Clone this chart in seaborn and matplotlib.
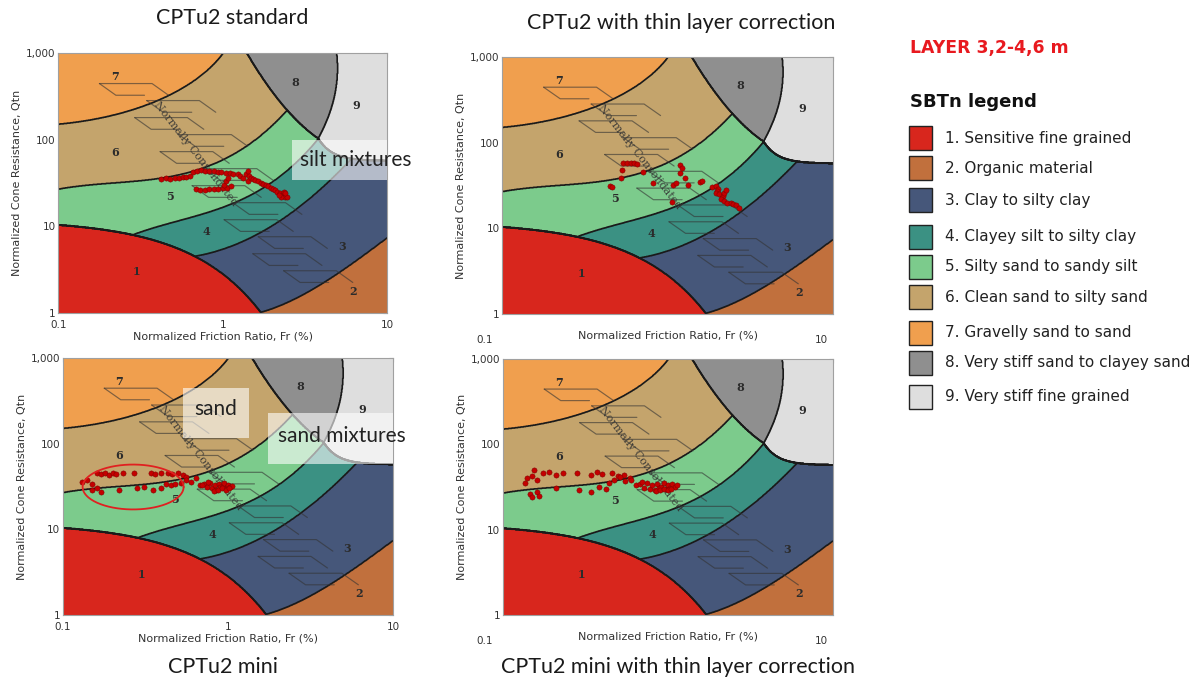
import numpy as np
import matplotlib
matplotlib.use("Agg")
import matplotlib.pyplot as plt
import seaborn as sns
from matplotlib.patches import Rectangle
from matplotlib.ticker import LogLocator, NullFormatter
from matplotlib.transforms import ScaledTranslation

sns.set_style("white")
plt.rcParams["font.family"] = ["DejaVu Sans"]

# ------------------------------------------------------------------ data
panel_titles = ["CPTu2 standard", "CPTu2 with thin layer correction",
                "CPTu2 mini", "CPTu2 mini with thin layer correction"]
layer_title = "LAYER 3,2-4,6 m"
legend_title = "SBTn legend"
zone_names = ["1. Sensitive fine grained", "2. Organic material",
              "3. Clay to silty clay", "4. Clayey silt to silty clay",
              "5. Silty sand to sandy silt", "6. Clean sand to silty sand",
              "7. Gravelly sand to sand", "8. Very stiff sand to clayey sand",
              "9. Very stiff fine grained"]
zone_colors = ["#d8261d", "#c1703d", "#46577a", "#3b9183", "#7ccb8c",
               "#c4a46c", "#f09f4e", "#8f8f8f", "#dedede"]
zone_ids = ["1", "2", "3", "4", "5", "6", "7", "8", "9"]
zone_label_fr = [0.30, 6.2, 5.3, 0.80, 0.48, 0.22, 0.22, 2.75, 6.5]
zone_label_q = [3.0, 1.78, 5.9, 8.7, 22, 72, 530, 460, 250]

x_ticks = [0.1, 1, 10]
x_tick_labels = ["0.1", "1", "10"]
y_ticks = [1, 10, 100, 1000]
y_tick_labels = ["1", "10", "100", "1,000"]
x_label = "Normalized Friction Ratio, Fr (%)"
y_label = "Normalized Cone Resistance, Qtn"

# CPT data (Fr %, Qtn)
fr_std = [0.42, 0.45, 0.48, 0.51, 0.54, 0.57, 0.60, 0.63,
          0.66, 0.70, 0.74, 0.78, 0.83, 0.88, 0.93, 0.98, 1.04, 1.10, 1.16, 1.23,
          0.69, 0.73, 0.78, 0.83, 0.88, 0.94, 1.00, 1.06, 1.12,
          1.02, 1.05, 1.08,
          1.28, 1.33, 1.38, 1.42, 1.45, 1.42, 1.48, 1.52, 1.58, 1.64, 1.70, 1.76, 1.82,
          1.88, 1.95, 2.02, 2.08, 2.15, 2.22, 2.30, 2.38, 2.44, 2.35, 2.25, 2.40, 2.20]
q_std = [35, 36, 35, 36, 36, 37, 37, 38,
         42, 44, 45, 44, 43, 43, 42, 42, 41, 41, 40, 40,
         27, 26, 26, 27, 27, 27, 28, 28, 29,
         30, 33, 36,
         38, 36, 40, 43, 38, 33, 36, 35, 34, 33, 32, 31, 30,
         29, 28, 27, 26, 25, 24, 23, 22, 22, 25, 22, 24, 23]

fr_thin = [0.54, 0.57, 0.60, 0.63, 0.65, 0.53, 0.52, 0.45, 0.46, 0.71, 0.81, 1.19, 1.19,
           1.22, 1.27, 1.33, 1.08, 1.12, 1.06, 1.57, 1.62,
           1.86, 1.95, 2.02, 2.00, 1.95, 2.05, 2.15, 2.10, 2.20, 2.30, 2.40, 2.50, 2.60,
           2.70, 2.20, 2.25]
q_thin = [58, 58, 58, 58, 57, 48, 39, 31, 30, 46, 34, 55, 44,
          50, 39, 32, 32, 34, 20.5, 35, 36,
          30, 31, 29, 27, 26, 25, 24, 22, 21, 20, 20, 19, 18.5,
          17.5, 26, 28]

fr_mini = [0.13, 0.14, 0.15, 0.16, 0.17, 0.18, 0.19, 0.20, 0.21, 0.23, 0.27, 0.34, 0.36,
           0.39, 0.43, 0.46, 0.50, 0.53, 0.56,
           0.15, 0.16, 0.17, 0.22, 0.28, 0.31, 0.35, 0.39, 0.42, 0.45, 0.48, 0.52, 0.56,
           0.60, 0.64,
           0.68, 0.72, 0.75, 0.78, 0.80, 0.83, 0.85, 0.88, 0.90, 0.93, 0.95, 0.98, 1.00,
           1.03, 1.06, 0.82, 0.87, 0.92, 0.97, 1.02, 0.76, 0.70]
q_mini = [36, 38, 34, 45, 44, 45, 43, 45, 44, 46, 45, 45, 44,
          46, 45, 44, 45, 43, 41,
          29, 30, 27, 29, 30, 31, 29, 30, 34, 33, 34, 35, 38,
          36, 40,
          33, 34, 31, 35, 30, 33, 29, 34, 31, 32, 35, 30, 33,
          31, 32, 28, 29, 30, 29, 30, 36, 33]

fr_mini_thin = [0.135, 0.14, 0.15, 0.155, 0.16, 0.175, 0.19, 0.21, 0.23, 0.28, 0.34, 0.37,
                0.40, 0.46, 0.50, 0.54, 0.59,
                0.145, 0.15, 0.16, 0.165, 0.21, 0.29, 0.34, 0.38, 0.42, 0.44, 0.47, 0.51,
                0.55,
                0.64, 0.68, 0.72, 0.75, 0.78, 0.80, 0.83, 0.86, 0.88, 0.91, 0.94, 0.97,
                1.00, 1.03, 1.06, 1.10, 1.13, 0.85, 0.90, 0.95, 1.00, 1.05, 0.70, 0.60]
q_mini_thin = [35, 40, 43, 50, 38, 46, 48, 44, 46, 46, 44, 47,
               45, 46, 42, 44, 40,
               26, 24, 28, 25, 30.6, 29, 28, 31.6, 30, 35, 38, 41,
               37,
               33, 34, 31, 35, 30, 33, 29, 34, 31, 32, 35, 30,
               33, 31, 34, 32, 33, 28.5, 29, 30, 29, 30, 36, 38]

panel_data = [(fr_std, q_std), (fr_thin, q_thin), (fr_mini, q_mini),
              (fr_mini_thin, q_mini_thin)]

# SBTn chart boundaries (log10 Fr, log10 Qtn) control points
b65_u = [-1.0, -0.75, -0.35, 0.05, 0.17, 0.30, 0.389]
b65_v = [1.441, 1.455, 1.60, 1.80, 1.95, 2.16, 2.345]
b54_u = [-0.52, -0.19, 0.113, 0.376, 0.58]
b54_v = [0.923, 1.094, 1.328, 1.602, 2.014]
b43_u = [-0.14, 0.42, 0.782]
b43_v = [0.665, 1.16, 1.78]
b32_u = [0.216, 0.469, 0.672, 0.874, 0.996]
b32_v = [0.0, 0.192, 0.422, 0.69, 0.863]
bA_u = [0.146, 0.389, 0.58]
bA_v = [3.0, 2.345, 2.014]
bB_v = [3.0, 2.38, 2.014]
bB_u = [0.692, 0.662, 0.58]
corner_u, corner_v = 0.58, 2.014

# ------------------------------------------------------------------ zones
U1 = np.linspace(-1, 1, 700)
V1 = np.linspace(0, 3, 700)
U, V = np.meshgrid(U1, V1)
FR = 10 ** U
QQ = 10 ** V


def boundary(us, vs, deg, grid, end):
    val = np.polyval(np.polyfit(us, vs, deg), grid)
    return np.where(grid > end, 10.0, val)


ic = np.sqrt((3.47 - V) ** 2 + (U + 1.22) ** 2)
s65 = boundary(b65_u, b65_v, 3, U, b65_u[-1])
s54 = boundary(b54_u, b54_v, 3, U, b54_u[-1])
s43 = boundary(b43_u, b43_v, 2, U, b43_u[-1])
s32 = boundary(b32_u, b32_v, 3, U, 2.0)
sA = np.polyval(np.polyfit(bA_u, bA_v, 2), U)
gB = np.polyval(np.polyfit(bB_v, bB_u, 2), np.maximum(V, corner_v))
sC = 1.757 + 0.257 * np.exp(-(U - corner_u) / 0.086)

Z = np.full(U.shape, 2.0)
Z[V > s32] = 3
Z[V > s43] = 4
Z[V > s54] = 5
Z[V > s65] = 6
Z[ic < 1.31] = 7
in9 = (U > gB) & (V > sC)
in8 = (V > sA) & ~in9
Z[in8] = 8
Z[in9] = 9
Z[QQ < 12 * np.exp(-1.45 * FR)] = 1

W, H = 1203, 682
fig = plt.figure(figsize=(W / 100, H / 100), dpi=100)

rects = [(58.3, 53, 387.3, 313), (502.3, 57, 833, 314),
         (63, 358, 393, 615), (503, 359, 833, 615)]

nc_t = np.linspace(0, 1, 12)
nc_dx = [-0.05, 0.05, -0.03, 0.06, -0.04, 0.05, -0.03, 0.05, -0.02, 0.04, -0.02, 0.03]


def px_rect(r):
    x0, y0, x1, y1 = r
    return [x0 / W, 1 - y1 / H, (x1 - x0) / W, (y1 - y0) / H]


axes = []
for i, r in enumerate(rects):
    ax = fig.add_axes(px_rect(r))
    axes.append(ax)
    ax.set_xscale("log")
    ax.set_yscale("log")
    ax.contourf(FR, QQ, Z, levels=np.arange(0.5, 10, 1.0), colors=zone_colors,
                antialiased=True)
    ax.contour(FR, QQ, Z, levels=np.arange(1.5, 9.5, 1.0), colors="#1a1a1a",
               linewidths=1.2)
    ax.set_xlim(0.1, 10)
    ax.set_ylim(1, 1000)

    # normally consolidated band
    for k, t in enumerate(nc_t):
        cx = 0.28 + 0.48 * t + nc_dx[k]
        cy = 0.86 - 0.72 * t
        w, h, s = 0.16, 0.045, 0.05
        ax.plot([cx - w / 2 - s / 2, cx + w / 2 - s / 2, cx + w / 2 + s / 2],
                [cy + h / 2, cy + h / 2, cy - h / 2], transform=ax.transAxes,
                color="#333333", lw=0.85, alpha=0.6)
        ax.plot([cx - w / 2 - s / 2, cx - w / 2 + s / 2, cx + w / 2 * 0.4],
                [cy + h / 2, cy - h / 2, cy - h / 2], transform=ax.transAxes,
                color="#333333", lw=0.85, alpha=0.6)
    ax.text(0.68, 68, "Normally Consolidated", rotation=-52, ha="center",
            va="center", fontsize=8, family="DejaVu Serif", color="#333333",
            alpha=0.9, rotation_mode="anchor")

    for zid, zf, zq in zip(zone_ids, zone_label_fr, zone_label_q):
        ax.text(zf, zq, zid, ha="center", va="center", fontsize=8,
                family="DejaVu Serif", fontweight="bold", color="#2b2b2b")

    fr, q = panel_data[i]
    sns.scatterplot(x=fr, y=q, ax=ax, color="#c40000", s=14, edgecolor="#7a0000",
                    linewidth=0.35, zorder=6, legend=False)

    ax.set_xticks(x_ticks)
    ax.set_xticklabels(x_tick_labels)
    ax.set_yticks(y_ticks)
    ax.set_yticklabels(y_tick_labels)
    ax.xaxis.set_minor_locator(LogLocator(base=10, subs=np.arange(2, 10)))
    ax.yaxis.set_minor_locator(LogLocator(base=10, subs=np.arange(2, 10)))
    ax.xaxis.set_minor_formatter(NullFormatter())
    ax.yaxis.set_minor_formatter(NullFormatter())
    ax.tick_params(which="both", direction="in", top=True, right=True,
                   color="#8a8a8a", labelsize=7.5, labelcolor="#333333")
    ax.tick_params(which="major", length=3)
    ax.tick_params(which="minor", length=2)
    ax.tick_params(axis="y", pad=2)
    for sp in ax.spines.values():
        sp.set_color("#a0a0a0")
        sp.set_linewidth(0.8)
    ax.set_ylabel(y_label, fontsize=8, color="#333333", labelpad=3)
    if i % 2 == 0:
        ax.tick_params(axis="x", pad=5)
        ax.set_xlabel(x_label, fontsize=8, color="#333333", labelpad=1)
    else:
        ax.set_xticks([x_ticks[0], x_ticks[2]])
        ax.set_xticklabels([x_tick_labels[0], x_tick_labels[2]])
        ax.tick_params(axis="x", pad=15)
        labs = ax.get_xticklabels()
        labs[0].set_transform(labs[0].get_transform() +
                              ScaledTranslation(-0.18, 0, fig.dpi_scale_trans))
        labs[1].set_transform(labs[1].get_transform() +
                              ScaledTranslation(-0.12, 0, fig.dpi_scale_trans))
        ax.set_xlabel(x_label, fontsize=8, color="#333333", labelpad=-10)

# annotations
box_kw = dict(facecolor="white", alpha=0.6, edgecolor="none", zorder=7)
ax = axes[0]
ax.add_patch(Rectangle((2.64, 34.2), 10 - 2.64, 98.7 - 34.2, **box_kw))
ax.text(2.94, 58, "silt mixtures", fontsize=15, family="Lato", va="center",
        ha="left", color="#222222", zorder=8, clip_on=False)
ax = axes[2]
ax.add_patch(Rectangle((0.533, 116), 1.34 - 0.533, 446 - 116, **box_kw))
ax.text(0.846, 255, "sand", fontsize=15, family="Lato", va="center", ha="center",
        color="#222222", zorder=8)
ax.add_patch(Rectangle((1.74, 57.8), 10 - 1.74, 227 - 57.8, **box_kw))
ax.text(2.0, 124, "sand mixtures", fontsize=15, family="Lato", va="center",
        ha="left", color="#222222", zorder=8, clip_on=False)
th = np.linspace(0, 2 * np.pi, 200)
ax.plot(10 ** (np.log10(0.266) + 0.306 * np.cos(th)),
        10 ** (np.log10(31.2) + 0.262 * np.sin(th)), color="#e02020", lw=1.3,
        zorder=7)

# titles
title_pos = [(232, 18), (681, 23), (223, 667), (678, 667)]
for t, (x, y) in zip(panel_titles, title_pos):
    fig.text(x / W, 1 - y / H, t, ha="center", va="center", fontsize=15.5,
             family="Lato", color="#1a1a1a")

# legend block
fig.text(910 / W, 1 - 48 / H, layer_title, ha="left", va="center", fontsize=12.4,
         fontweight="bold", color="#e8191f")
fig.text(910 / W, 1 - 102 / H, legend_title, ha="left", va="center", fontsize=13,
         fontweight="bold", color="#111111")
leg_y = [138, 168, 200, 237, 267, 297, 333, 363, 397]
for name, col, y in zip(zone_names, zone_colors, leg_y):
    fig.add_artist(Rectangle((909 / W, 1 - (y + 12) / H), 23 / W, 24 / H,
                             transform=fig.transFigure, facecolor=col,
                             edgecolor="#222222", lw=1.0))
    fig.text(945 / W, 1 - y / H, name, ha="left", va="center", fontsize=11,
             color="#222222")

fig.savefig("out.png", dpi=100)
